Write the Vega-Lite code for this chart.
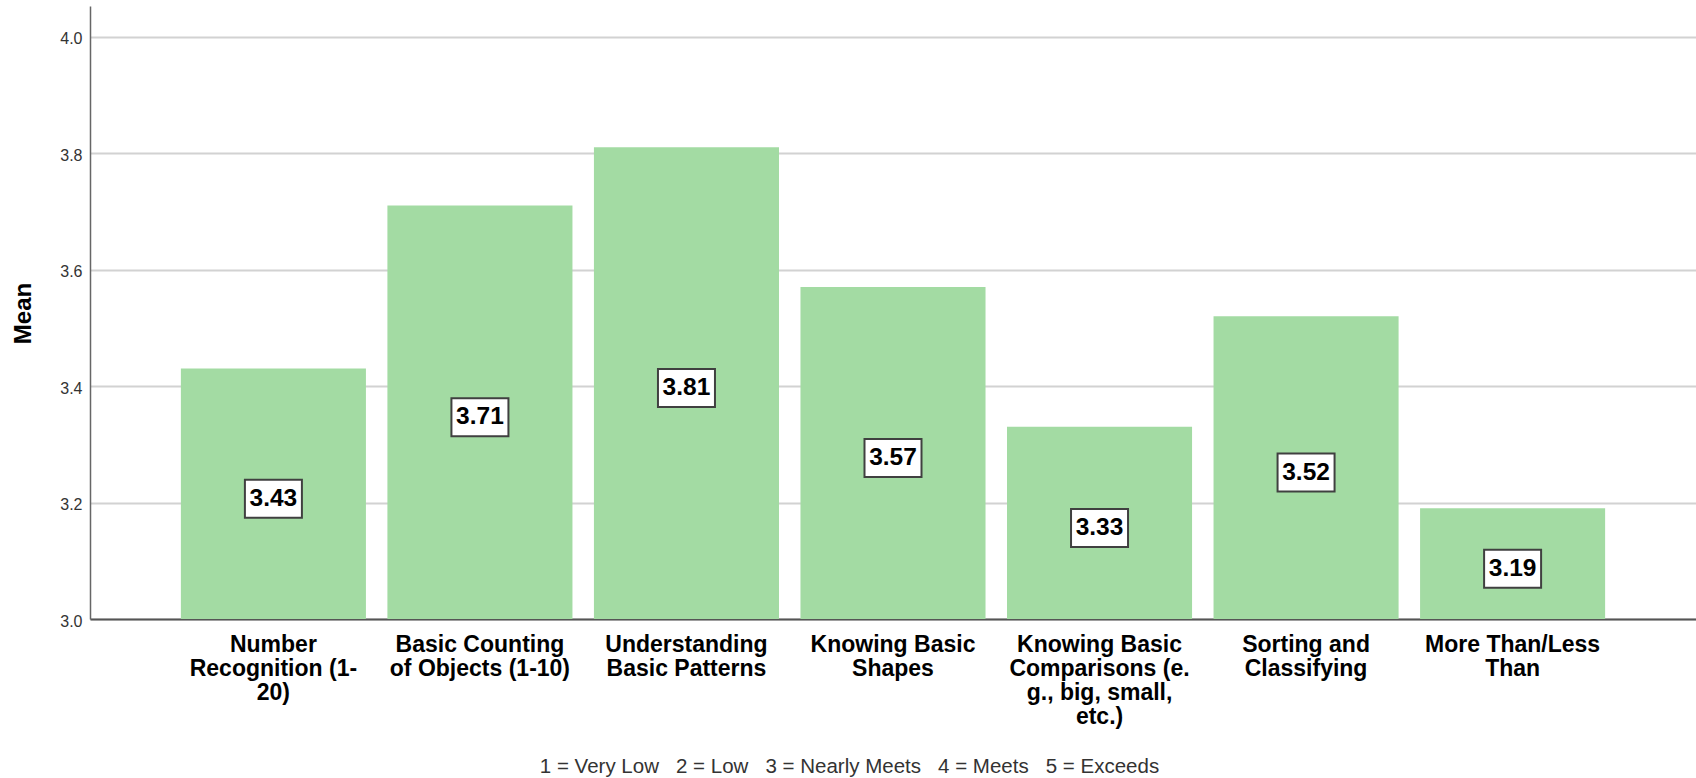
{
  "$schema": "https://vega.github.io/schema/vega-lite/v6.json",
  "autosize": "none",
  "width": 1606,
  "height": 613,
  "padding": {"left": 90, "top": 6, "right": 0, "bottom": 159},
  "background": "white",
  "config": {"view": {"stroke": null}},
  "data": {
    "values": [
      {"skill": "Number Recognition (1-20)", "mean": 3.43},
      {"skill": "Basic Counting of Objects (1-10)", "mean": 3.71},
      {"skill": "Understanding Basic Patterns", "mean": 3.81},
      {"skill": "Knowing Basic Shapes", "mean": 3.57},
      {"skill": "Knowing Basic Comparisons (e.g., big, small, etc.)", "mean": 3.33},
      {"skill": "Sorting and Classifying", "mean": 3.52},
      {"skill": "More Than/Less Than", "mean": 3.19}
    ]
  },
  "encoding": {
    "x": {
      "field": "skill",
      "type": "nominal",
      "sort": null,
      "scale": {"paddingInner": 0.104, "paddingOuter": 0.44},
      "axis": {
        "title": "1 = Very Low\u00a0\u00a0 2 = Low\u00a0\u00a0 3 = Nearly Meets\u00a0\u00a0 4 = Meets\u00a0\u00a0 5 = Exceeds",
        "titleFont": "Liberation Sans",
        "titleFontSize": 20.5,
        "titleFontWeight": "normal",
        "titleColor": "#333333",
        "titleX": 759,
        "titleY": 147,
        "titleAlign": "center",
        "titleAnchor": null,
        "titleBaseline": "middle",
        "domainColor": "#555555",
        "domainWidth": 2,
        "ticks": false,
        "tickSize": 0,
        "labelPadding": 14,
        "labelAngle": 0,
        "labelAlign": "center",
        "labelBaseline": "top",
        "labelFont": "Liberation Sans",
        "labelFontSize": 23,
        "labelFontWeight": "bold",
        "labelColor": "#000000",
        "labelLineHeight": 24,
        "labelLimit": 400,
        "labelOverlap": false,
        "labelExpr": "datum.value == 'Number Recognition (1-20)' ? ['Number', 'Recognition (1-', '20)'] : datum.value == 'Basic Counting of Objects (1-10)' ? ['Basic Counting', 'of Objects (1-10)'] : datum.value == 'Understanding Basic Patterns' ? ['Understanding', 'Basic Patterns'] : datum.value == 'Knowing Basic Shapes' ? ['Knowing Basic', 'Shapes'] : datum.value == 'Knowing Basic Comparisons (e.g., big, small, etc.)' ? ['Knowing Basic', 'Comparisons (e.', 'g., big, small,', 'etc.)'] : datum.value == 'Sorting and Classifying' ? ['Sorting and', 'Classifying'] : datum.value == 'More Than/Less Than' ? ['More Than/Less', 'Than'] : datum.value"
      }
    }
  },
  "layer": [
    {
      "mark": {"type": "bar", "color": "#a3dba3"},
      "encoding": {
        "y": {
          "field": "mean",
          "type": "quantitative",
          "scale": {"domain": [3, 4.0525], "zero": false, "nice": false},
          "axis": {
            "title": "Mean",
            "titleFont": "Liberation Sans",
            "titleFontSize": 24,
            "titleFontWeight": "bold",
            "titleColor": "#000000",
            "titleX": -67,
            "titleY": 307,
            "titleAngle": -90,
            "titleAlign": "center",
            "titleBaseline": "middle",
            "values": [3, 3.2, 3.4, 3.6, 3.8, 4.0],
            "format": ".1f",
            "ticks": false,
            "tickSize": 0,
            "labelPadding": 8,
            "labelFont": "Liberation Sans",
            "labelFontSize": 16,
            "labelColor": "#333333",
            "labelOffset": 2,
            "grid": true,
            "gridColor": "#d2d2d2",
            "gridWidth": 2,
            "domainColor": "#666666",
            "domainWidth": 1.5
          }
        },
        "y2": {"datum": 3}
      }
    },
    {
      "encoding": {
        "y": {
          "field": "mean",
          "type": "quantitative",
          "scale": {"domain": [3, 5.105], "zero": false, "nice": false},
          "axis": null
        }
      },
      "layer": [
        {
          "mark": {
            "type": "point",
            "shape": "M-1.5,-1L1.5,-1L1.5,1L-1.5,1Z",
            "size": 1444,
            "filled": true,
            "fill": "white",
            "fillOpacity": 1,
            "opacity": 1,
            "stroke": "#404040",
            "strokeWidth": 2,
            "yOffset": 5
          }
        },
        {
          "mark": {
            "type": "text",
            "font": "Liberation Sans",
            "fontSize": 24.5,
            "fontWeight": "bold",
            "color": "#000000",
            "align": "center",
            "baseline": "middle",
            "yOffset": 5
          },
          "encoding": {"text": {"field": "mean", "type": "quantitative", "format": ".2f"}}
        }
      ]
    }
  ],
  "resolve": {"scale": {"y": "independent"}}
}
